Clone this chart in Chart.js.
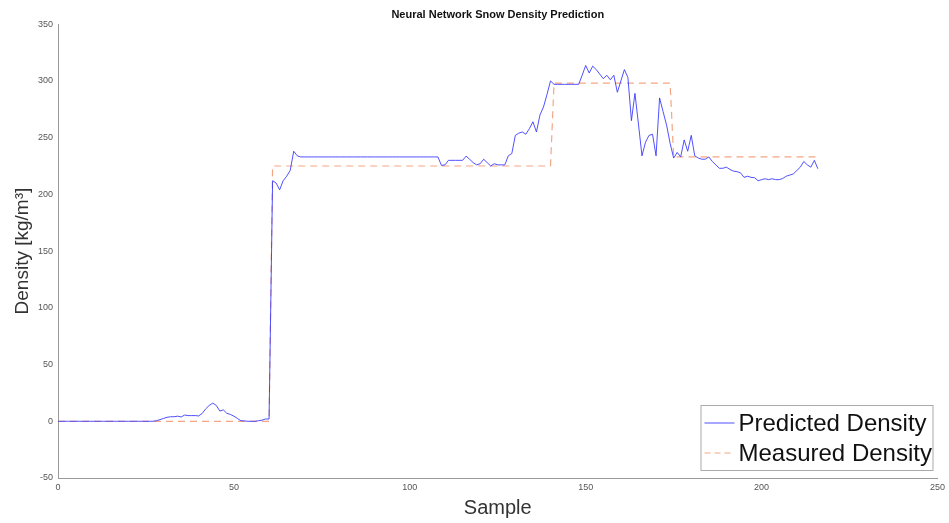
<!DOCTYPE html>
<html>
<head>
<meta charset="utf-8">
<title>Neural Network Snow Density Prediction</title>
<script src="https://cdn.jsdelivr.net/npm/chart.js@4/dist/chart.umd.min.js"></script>
<style>
  html, body { margin: 0; padding: 0; background: #fff; }
  #wrap { width: 949px; height: 523px; position: relative; }
</style>
</head>
<body>
<div id="wrap"><canvas id="chartCanvas"></canvas></div>
<script>
// --- data ---
const xTicks = [0, 50, 100, 150, 200, 250];
const yTicks = [-50, 0, 50, 100, 150, 200, 250, 300, 350];

// predicted density, samples 0..216
const predicted = [
  0, 0, 0, 0, 0, 0, 0, 0, 0, 0,
  0, 0, 0, 0, 0, 0, 0, 0, 0, 0,
  0, 0, 0, 0, 0, 0, 0, 0, 0.5, 1.5,
  2.5, 3.5, 4, 4, 4.5, 3.8, 5.5, 5, 5, 5,
  4.7, 7, 11, 14, 16, 14, 9, 10, 7, 6,
  4.5, 2.5, 0.5, 0.3, 0, 0, 0, 0.5, 1, 2,
  2, 212, 210, 204, 212, 216, 221, 238, 234, 233,
  233, 233, 233, 233, 233, 233, 233, 233, 233, 233,
  233, 233, 233, 233, 233, 233, 233, 233, 233, 233,
  233, 233, 233, 233, 233, 233, 233, 233, 233, 233,
  233, 233, 233, 233, 233, 233, 233, 233, 233, 225.5,
  226, 230, 230, 230, 230, 230, 233.7, 231, 228, 226,
  227, 231, 228, 225, 227, 226, 226, 226, 234, 236,
  252, 254, 255, 253, 258, 264, 255, 270, 277, 288,
  300, 297, 297, 297, 297, 297, 297, 297, 297, 305,
  313.6, 307, 313, 310, 306, 302, 305, 301, 305, 290,
  300, 310, 303, 265, 289, 262, 234, 246, 252, 253,
  234, 285, 273, 261, 245, 232, 237, 233, 248, 238,
  252, 234, 232, 231, 231, 233, 229, 226, 223, 223,
  224, 222, 220.5, 220, 219, 215, 216, 215, 214.7, 212,
  213, 213.8, 213, 213.8, 213, 213, 214, 216, 217, 218,
  221, 224, 229, 226, 224, 230, 222.6
];

// measured density levels and the samples where they change
const measuredLevels = [0, 225, 298, 233];
const measuredStarts = [0, 61, 141, 175];
const lastSample = 216;

const measured = [];
for (let i = 0; i <= lastSample; i++) {
  let k = 0;
  while (k + 1 < measuredStarts.length && i >= measuredStarts[k + 1]) k++;
  measured.push(measuredLevels[k]);
}

const predPoints = predicted.map((v, i) => ({ x: i, y: v }));
const measPoints = measured.map((v, i) => ({ x: i, y: v }));

const blue = "rgba(50,50,255,0.85)";
const orange = "rgba(242,150,110,0.85)";
const fontFam = "Arial, 'Liberation Sans', sans-serif";

// legend box drawn inside the plot, lower right
const boxLegend = {
  id: "boxLegend",
  afterDraw(chart) {
    const { ctx, chartArea } = chart;
    const w = 232, h = 65;
    const x = chartArea.right - w - 5;
    const y = chartArea.bottom - h - 8;
    ctx.save();
    ctx.fillStyle = "#fff";
    ctx.fillRect(x, y, w, h);
    ctx.strokeStyle = "#aaa";
    ctx.lineWidth = 1;
    ctx.strokeRect(x + 0.5, y + 0.5, w, h);
    ctx.font = "24px " + fontFam;
    ctx.fillStyle = "#111";
    ctx.textBaseline = "middle";
    const rows = [
      { label: "Predicted Density", color: blue, dash: [] },
      { label: "Measured Density", color: orange, dash: [6, 4] }
    ];
    rows.forEach((r, i) => {
      const cy = y + 18 + i * 30;
      ctx.beginPath();
      ctx.setLineDash(r.dash);
      ctx.strokeStyle = r.color;
      ctx.moveTo(x + 4, cy);
      ctx.lineTo(x + 34, cy);
      ctx.stroke();
      ctx.setLineDash([]);
      ctx.fillText(r.label, x + 38, cy + 1);
    });
    ctx.restore();
  }
};

const canvas = document.getElementById("chartCanvas");

new Chart(canvas, {
  type: "line",
  data: {
    datasets: [
      {
        label: "Predicted Density",
        data: predPoints,
        borderColor: blue,
        borderWidth: 1,
        pointRadius: 0,
        tension: 0
      },
      {
        label: "Measured Density",
        data: measPoints,
        borderColor: orange,
        borderWidth: 1.2,
        borderDash: [7, 5],
        pointRadius: 0,
        tension: 0
      }
    ]
  },
  options: {
    responsive: true,
    maintainAspectRatio: false,
    animation: false,
    layout: { padding: { top: 0, right: 9, left: 0, bottom: 0 } },
    plugins: {
      legend: { display: false },
      tooltip: { enabled: false },
      title: {
        display: true,
        fullSize: false,
        text: "Neural Network Snow Density Prediction",
        color: "#111",
        font: { family: fontFam, size: 11, weight: "bold" },
        padding: { top: 8, bottom: 3 }
      }
    },
    scales: {
      x: {
        type: "linear",
        min: 0,
        max: 250,
        afterBuildTicks: axis => { axis.ticks = xTicks.map(v => ({ value: v })); },
        afterFit: axis => { axis.height = 45; },
        grid: { display: false, drawTicks: false },
        border: { display: true, color: "#999" },
        ticks: { color: "#555", font: { size: 9, family: fontFam }, maxRotation: 0, padding: 4 },
        title: {
          display: true,
          text: "Sample",
          color: "#333",
          font: { size: 20, family: fontFam },
          padding: { top: 0, bottom: 3 }
        }
      },
      y: {
        type: "linear",
        min: -50,
        max: 350,
        afterBuildTicks: axis => { axis.ticks = yTicks.map(v => ({ value: v })); },
        afterFit: axis => { axis.width = 58; },
        grid: { display: false, drawTicks: false },
        border: { display: true, color: "#999" },
        ticks: { color: "#555", font: { size: 9, family: fontFam }, padding: 5 },
        title: {
          display: true,
          text: "Density [kg/m³]",
          color: "#333",
          font: { size: 19, family: fontFam },
          padding: { top: 11, bottom: 0 }
        }
      }
    }
  },
  plugins: [boxLegend]
});
</script>
</body>
</html>
